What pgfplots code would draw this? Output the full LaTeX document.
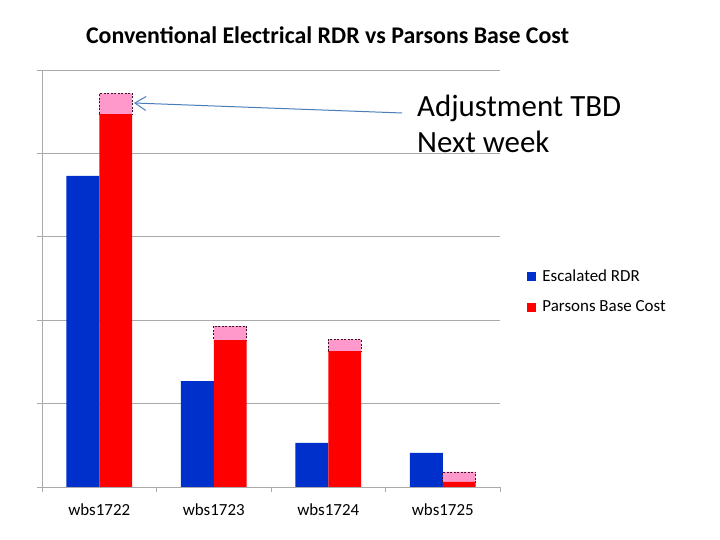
\documentclass[border=0pt]{standalone}
\usepackage{pgfplots}
\pgfplotsset{compat=1.18}
\usepackage{fontspec}
\setmainfont{Carlito}
\usetikzlibrary{arrows.meta}
\definecolor{rdrblue}{RGB}{0,48,204}
\definecolor{pbred}{RGB}{255,0,0}
\definecolor{adjpink}{RGB}{255,153,204}
\definecolor{gridgray}{RGB}{170,170,170}
\definecolor{arrowblue}{RGB}{74,126,187}
\pgfplotstableread{
x rdr
0 3.73
1 1.27
2 0.53
3 0.41
}\rdrdata
\pgfplotstableread{
x base adj
0 4.47 0.25
1 1.76 0.17
2 1.63 0.14
3 0.06 0.12
}\basedata
\begin{document}
\begin{tikzpicture}[x=1bp,y=1bp]
\path[use as bounding box,fill=white] (0,0) rectangle (720,540);
\begin{axis}[
  at={(42bp,53bp)}, anchor=south west,
  width=458bp, height=417bp, scale only axis,
  xmin=-0.5, xmax=3.5, ymin=0, ymax=5,
  axis x line*=bottom, axis y line*=left,
  axis line style={gridgray, line width=0.8bp},
  ytick={0,1,2,3,4,5}, yticklabels={},
  ymajorgrids, grid style={gridgray, line width=0.8bp},
  xtick={0,1,2,3},
  xticklabels={wbs1722,wbs1723,wbs1724,wbs1725},
  major x tick style={draw=none},
  minor xtick={-0.5,0.5,1.5,2.5,3.5},
  tick align=outside,
  major tick length=5bp, minor tick length=5bp,
  tick style={gridgray, line width=0.8bp},
  xticklabel style={font=\fontsize{17}{20}\selectfont, yshift=-8bp},
  legend style={at={(1.059,0.469)}, anchor=west, draw=none, fill=none,
    font=\fontsize{17}{20}\selectfont, row sep=14bp, inner sep=0pt},
  legend cell align=left,
  legend image code/.code={\path[#1,draw=none] (0bp,-4.5bp) rectangle (9bp,4.5bp); \path (13bp,0bp);},
]
\addplot[ybar, bar width=0.288, bar shift=-0.144, fill=rdrblue, draw=none] table[x=x,y=rdr] {\rdrdata};
\addlegendentry{Escalated RDR}
\addlegendimage{fill=pbred}
\addlegendentry{Parsons Base Cost}
\end{axis}
\begin{axis}[
  at={(42bp,53bp)}, anchor=south west,
  width=458bp, height=417bp, scale only axis,
  xmin=-0.5, xmax=3.5, ymin=0, ymax=5,
  hide axis, ybar stacked, bar width=0.288,
]
\addplot[bar shift=0.144, fill=pbred, draw=none] table[x=x,y=base] {\basedata};
\addplot[bar shift=0.144, fill=adjpink, draw={rgb,255:red,60;green,20;blue,40}, line width=0.8bp, dash pattern=on 2bp off 1.5bp] table[x=x,y=adj] {\basedata};
\end{axis}
\node[anchor=base, font=\bfseries\fontsize{24}{28}\selectfont] at (327.5,496) {Conventional Electrical RDR vs Parsons Base Cost};
\node[anchor=base west, inner sep=0pt, font=\fontsize{31}{36}\selectfont] at (417,423) {Adjustment TBD};
\node[anchor=base west, inner sep=0pt, font=\fontsize{31}{36}\selectfont] at (417,387) {Next week};
\draw[arrowblue, line width=1bp, -{Straight Barb[length=11bp,width=14bp,line width=1bp]}] (402,427) -- (134,437);
\end{tikzpicture}
\end{document}
